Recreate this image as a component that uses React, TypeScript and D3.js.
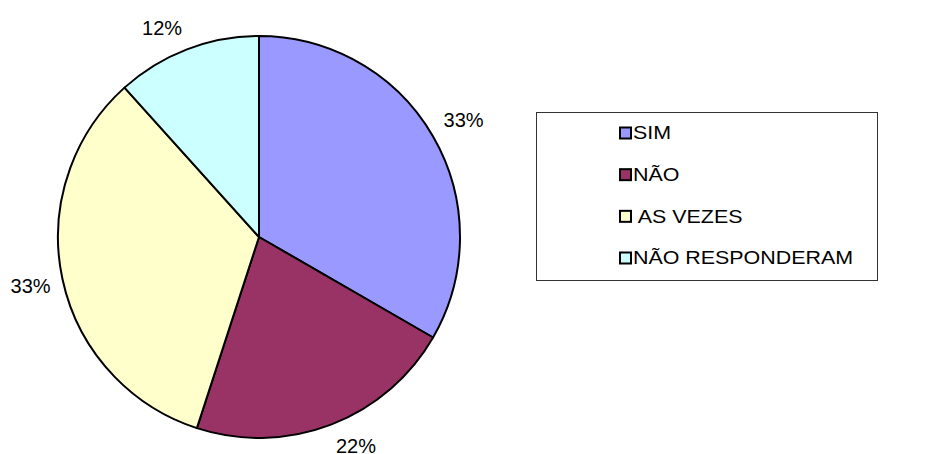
import React from "react";
import * as d3 from "d3";

const categories = ["SIM", "NÃO", "AS VEZES", "NÃO RESPONDERAM"];
const values = [20, 13, 20, 7];
const legendLabels = ["SIM", "NÃO", " AS VEZES", "NÃO RESPONDERAM"];
const colors = ["#9999FF", "#993366", "#FFFFCC", "#CCFFFF"];

const W = 930;
const H = 454;
const cx = 259;
const cy = 237;
const radius = 201;
const anchorRadius = 212;
const labelHalfW = 21;
const labelHalfH = 11;

export default function App() {
  const pie = d3
    .pie<number>()
    .sort(null)
    .value((d) => d)
    .startAngle(0)
    .endAngle(2 * Math.PI);
  const arcs = pie(values);
  const arc = d3.arc<d3.PieArcDatum<number>>().innerRadius(0).outerRadius(radius);
  const total = d3.sum(values);
  const clamp = (v: number) => Math.max(-1, Math.min(1, v));

  // Outside labels: the label box leans away from the pie, its nearest side touching
  // a point just beyond the rim at the slice's mid angle.
  const labelPos = (a: d3.PieArcDatum<number>) => {
    const mid = (a.startAngle + a.endAngle) / 2;
    const dx = Math.sin(mid);
    const dy = -Math.cos(mid);
    const px = dx * anchorRadius;
    const py = dy * anchorRadius;
    return [px + labelHalfW * clamp(dx / 0.3), py + labelHalfH * clamp(dy / 0.5)];
  };

  const legendY = d3
    .scalePoint<string>()
    .domain(categories)
    .range([133, 258]);

  return (
    <svg
      width={W}
      height={H}
      style={{ position: "absolute", left: 0, top: 0, background: "#fff" }}
      fontFamily="'Liberation Sans', Arial, sans-serif"
    >
      <g transform={`translate(${cx},${cy})`}>
        {arcs.map((a, i) => (
          <path
            key={categories[i]}
            d={arc(a) || ""}
            fill={colors[i]}
            stroke="#000"
            strokeWidth={2}
            strokeLinejoin="round"
          />
        ))}
        {arcs.map((a, i) => {
          const [x, y] = labelPos(a);
          return (
            <text
              key={"l" + i}
              x={x}
              y={y}
              textAnchor="middle"
              dominantBaseline="central"
              fontSize={20}
              fill="#000"
            >
              {Math.round((a.data / total) * 100)}%
            </text>
          );
        })}
      </g>
      <rect x={536.5} y={112.5} width={341} height={168} fill="#fff" stroke="#333" strokeWidth={1} />
      {categories.map((c, i) => {
        const y = legendY(c) as number;
        return (
          <g key={"lg" + c}>
            <rect x={620} y={y - 5.5} width={11} height={11} fill={colors[i]} stroke="#000" strokeWidth={2} />
            <g transform={`translate(633,${y}) scale(1.19,1)`}>
              <text x={0} y={0} dominantBaseline="central" fontSize={18} fill="#000" style={{ whiteSpace: "pre" }}>
                {legendLabels[i]}
              </text>
            </g>
          </g>
        );
      })}
    </svg>
  );
}
